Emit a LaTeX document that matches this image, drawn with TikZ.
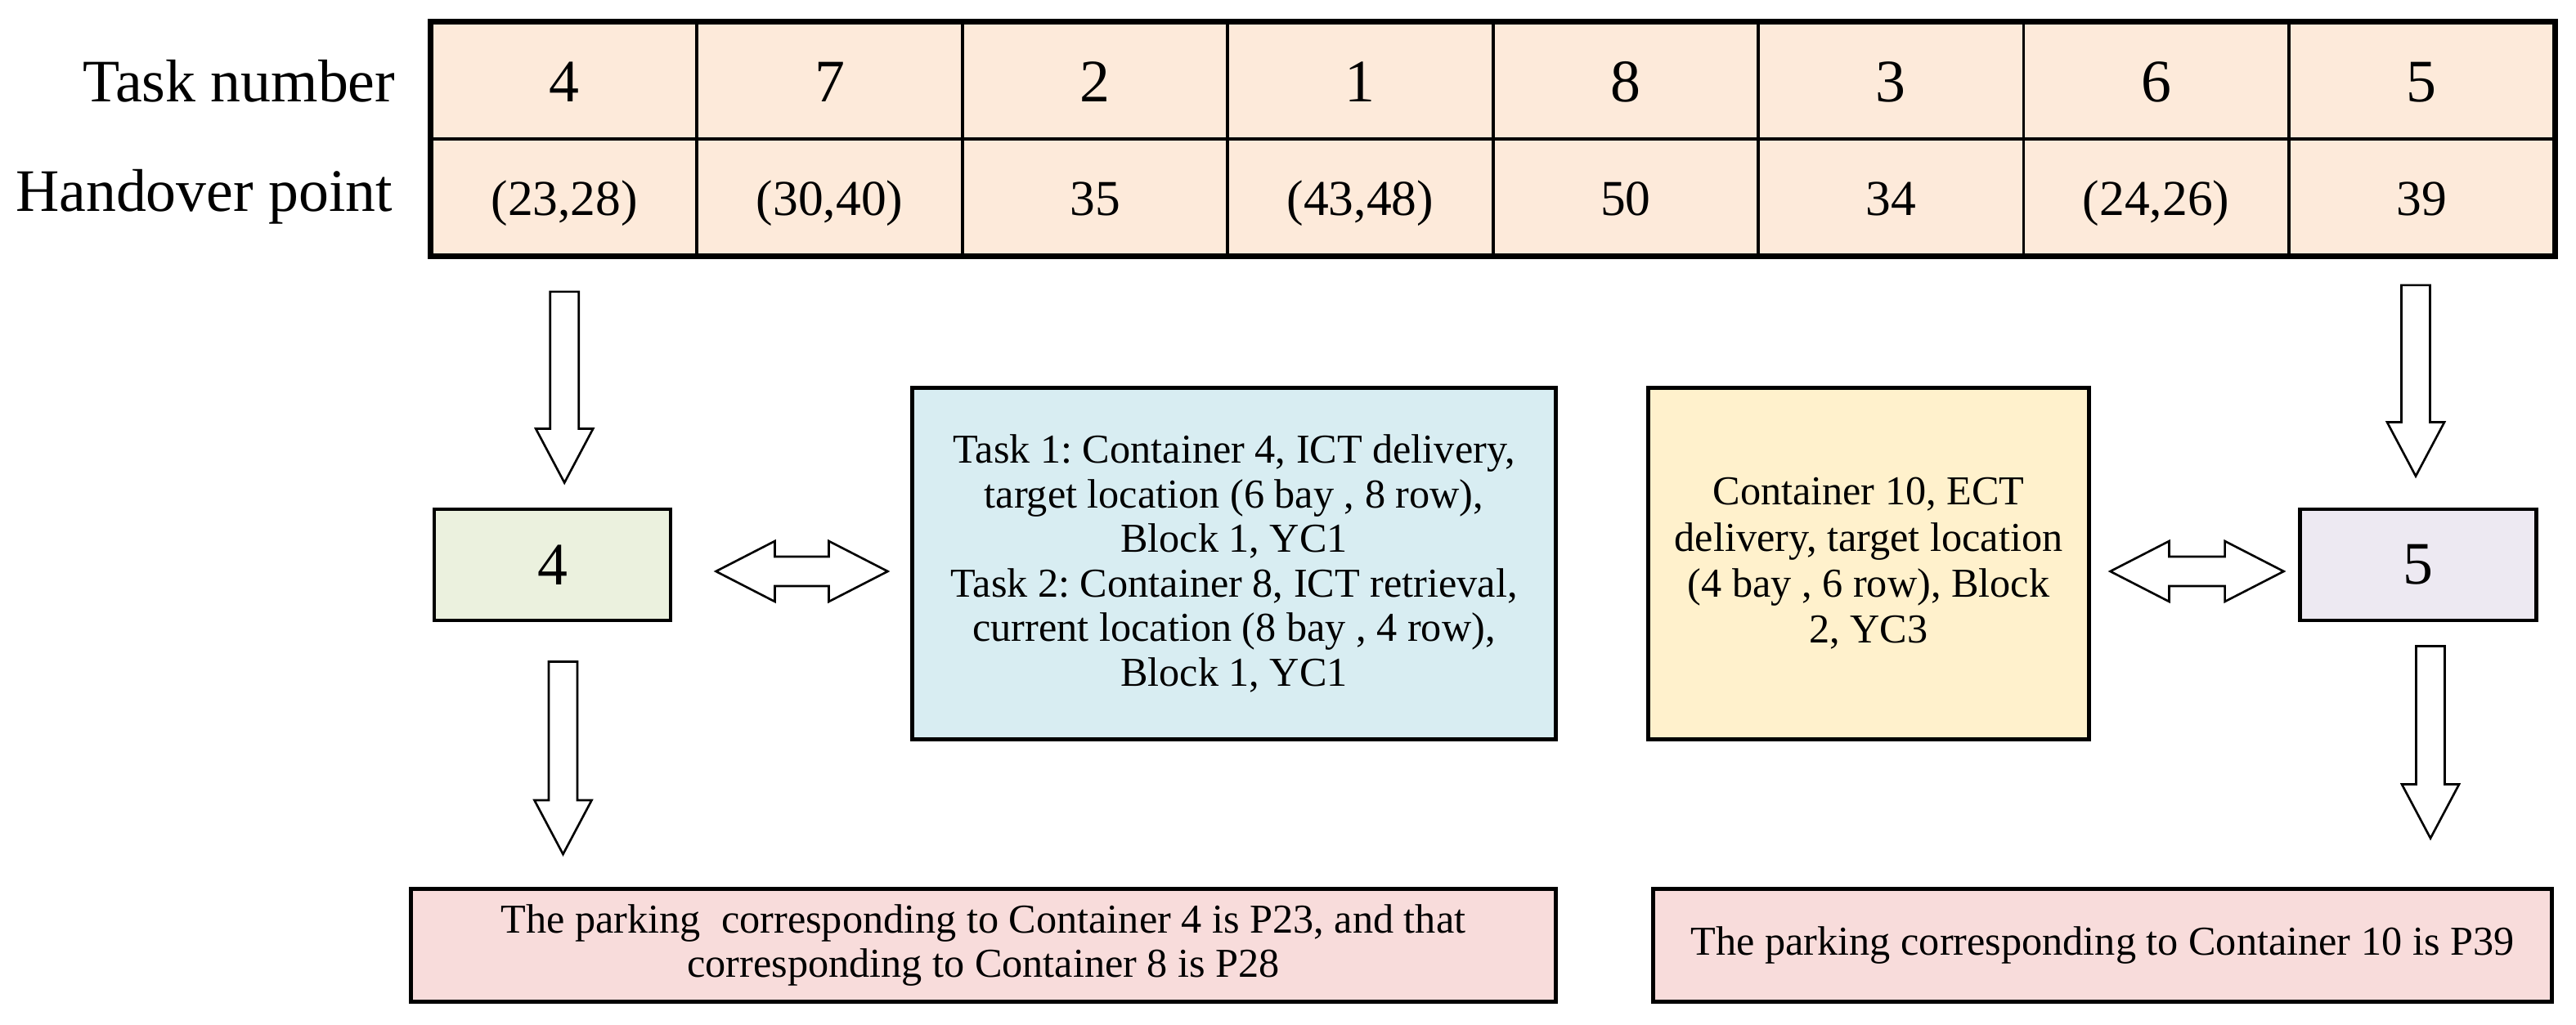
\documentclass[tikz,border=0pt]{standalone}
\usepackage{fontspec}
\setmainfont{Liberation Serif}
\usepackage{xcolor}
\usetikzlibrary{positioning, calc}
\frenchspacing
\definecolor{cellpeach}{RGB}{253, 234, 218}
\definecolor{boxgreen}{RGB}{235, 241, 222}
\definecolor{boxblue}{RGB}{216, 237, 242}
\definecolor{boxyellow}{RGB}{255, 241, 204}
\definecolor{boxpurple}{RGB}{237, 233, 242}
\definecolor{boxpink}{RGB}{248, 220, 219}
\tikzstyle{cell} = [rectangle, draw, line width=1.1pt, fill=cellpeach, minimum width=3.244cm, minimum height=1.42cm, inner sep=0pt]
\tikzstyle{rowlabel} = [anchor=east, inner sep=0pt, font=\fontsize{21}{24}\selectfont]
\tikzstyle{numbox} = [rectangle, draw, line width=1.4pt, minimum width=2.89cm, minimum height=1.36cm, font=\fontsize{21}{24}\selectfont]
\tikzstyle{infobox} = [rectangle, draw, line width=1.4pt, align=center, font=\fontsize{14.3}{15.5}\selectfont]
\tikzstyle{blockarrow} = [draw, fill=white, line width=0.75pt, line join=miter]
% hollow block arrows between two anchors
\newcommand{\downblock}[2]{%
  \draw[blockarrow] let \p1=(#1), \p2=(#2) in
    ({\x1-0.175cm},\y1) -- ({\x1+0.175cm},\y1) -- ({\x1+0.175cm},{\y2+0.66cm})
    -- ({\x1+0.35cm},{\y2+0.66cm}) -- (\x1,\y2) -- ({\x1-0.35cm},{\y2+0.66cm})
    -- ({\x1-0.175cm},{\y2+0.66cm}) -- cycle;}
\newcommand{\dblblock}[2]{%
  \draw[blockarrow] let \p1=(#1), \p2=(#2) in
    (\x1,\y1) -- ({\x1+0.72cm},{\y1+0.37cm}) -- ({\x1+0.72cm},{\y1+0.18cm})
    -- ({\x2-0.72cm},{\y1+0.18cm}) -- ({\x2-0.72cm},{\y1+0.37cm}) -- (\x2,\y1)
    -- ({\x2-0.72cm},{\y1-0.37cm}) -- ({\x2-0.72cm},{\y1-0.18cm})
    -- ({\x1+0.72cm},{\y1-0.18cm}) -- ({\x1+0.72cm},{\y1-0.37cm}) -- cycle;}

\begin{document}
\begin{tikzpicture}
    \useasboundingbox (0,0) rectangle (31.5,-12.54);

    % Task table
    \node[rowlabel] (lbltask) at (4.84,-0.99) {Task number};
    \node[rowlabel] (lblhand) at (4.81,-2.41) {Handover point};
    \foreach \task/\hp [count=\i] in {4/{(23,28)}, 7/{(30,40)}, 2/35, 1/{(43,48)}, 8/50, 3/34, 6/{(24,26)}, 5/39} {
        \node[cell, font=\fontsize{21}{24}\selectfont, text height=18pt, text depth=3.2pt] (t\i) at ({5.28+3.244*(\i-0.5)},-0.99) {\task};
        \node[cell, font=\fontsize{17.5}{20}\selectfont, text height=15pt, text depth=2.4pt] (h\i) at ({5.28+3.244*(\i-0.5)},-2.41) {\hp};
    }
    \draw[line width=1.5pt] (t1.north west) rectangle (h8.south east);

    % Handover boxes
    \node[numbox, fill=boxgreen] (g4) at (6.755,-6.91) {4};
    \node[infobox, fill=boxblue, minimum width=7.87cm, minimum height=4.30cm] (task12) at (15.09,-6.895) {Task 1: Container 4, ICT delivery,\\target location (6 bay , 8 row),\\Block 1, YC1\\Task 2: Container 8, ICT retrieval,\\current location (8 bay , 4 row),\\Block 1, YC1};
    \node[infobox, fill=boxyellow, minimum width=5.39cm, minimum height=4.30cm, font=\fontsize{14.3}{16}\selectfont] (task10) at (22.85,-6.895) {Container 10, ECT\\delivery, target location\\(4 bay , 6 row), Block\\2, YC3};
    \node[numbox, fill=boxpurple] (p5) at (29.565,-6.91) {5};

    % Parking results
    \node[infobox, fill=boxpink, minimum width=14.0cm, minimum height=1.38cm] (park48) at (12.025,-11.565) {The parking~ corresponding to Container 4 is P23, and that\\corresponding to Container 8 is P28};
    \node[infobox, fill=boxpink, minimum width=10.99cm, minimum height=1.38cm] (park10) at (25.71,-11.565) {The parking corresponding to Container 10 is P39};

    % Block arrows
    \downblock{[yshift=-0.43cm]h1.south}{[yshift=0.30cm]g4.north}
    \downblock{[xshift=0.13cm,yshift=-0.48cm]g4.south}{[yshift=0.40cm]park48.north}
    \downblock{[xshift=-0.07cm,yshift=-0.35cm]h8.south}{[yshift=0.38cm]p5.north}
    \downblock{[xshift=0.155cm,yshift=-0.29cm]p5.south}{[yshift=0.595cm]park10.north}
    \dblblock{[xshift=0.53cm,yshift=-0.08cm]g4.east}{[xshift=-0.275cm]task12.west}
    \dblblock{[xshift=0.235cm,yshift=-0.095cm]task10.east}{[xshift=-0.17cm]p5.west}
\end{tikzpicture}
\end{document}
